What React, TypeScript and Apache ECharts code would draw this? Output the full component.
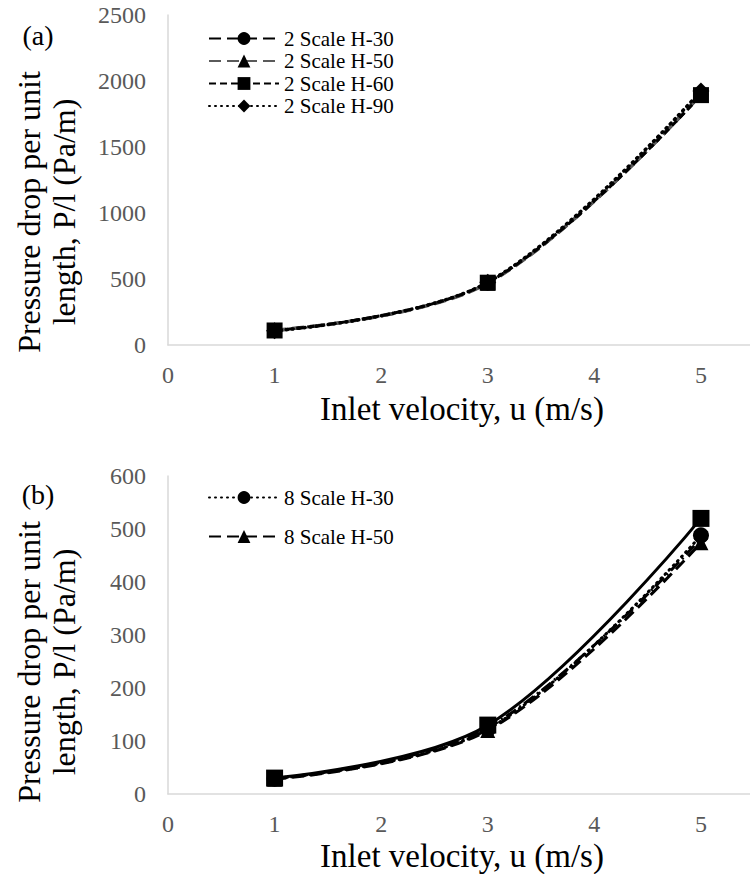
import React, { useEffect, useRef } from "react";
import * as echarts from "echarts";

// ---- data ----
const velocities = [1, 3, 5];
const xTicks = [0, 1, 2, 3, 4, 5];

const namesA = ["2 Scale H-30", "2 Scale H-50", "2 Scale H-60", "2 Scale H-90"];
const a30 = [110, 470, 1895];
const a50 = [112, 468, 1900];
const a60 = [110, 472, 1893];
const a90 = [108, 475, 1925];

const namesB = ["8 Scale H-30", "8 Scale H-50", "8 Scale H-60", "8 Scale H-90"];
const legendB = ["8 Scale H-30", "8 Scale H-50"];
const b30 = [29, 122, 488];
const b50 = [28, 120, 474];
const b60 = [30, 130, 520];
const b90 = [29, 125, 482];

const yTitle = "Pressure drop per unit\nlength, P/l (Pa/m)";
const xTitle = "Inlet velocity, u (m/s)";

const FONT = "'Liberation Serif', 'Times New Roman', serif";

function pairs(vals: number[]) {
  return vals.map((v, i) => [velocities[i], v]);
}

export default function App() {
  const ref = useRef<HTMLDivElement>(null);
  useEffect(() => {
    if (!ref.current) return;
    const chart = echarts.init(ref.current, undefined, { renderer: "svg" });

    const axisLine = { show: true, lineStyle: { color: "#d9d9d9", width: 1.5 } };
    const xAxisBase = (gridIndex: number) => ({
      type: "value" as const,
      gridIndex,
      min: 0,
      max: 5.46,
      interval: 1,
      axisLine,
      axisTick: { show: false },
      splitLine: { show: false },
      axisLabel: {
        fontSize: 24,
        fontFamily: FONT,
        color: "#595959",
        margin: 18,
        showMaxLabel: false,
        formatter: (v: number) => (xTicks.includes(v) ? String(v) : ""),
      },
    });
    const yAxisBase = (gridIndex: number, max: number, interval: number) => ({
      type: "value" as const,
      gridIndex,
      min: 0,
      max,
      interval,
      axisLine,
      axisTick: { show: false },
      splitLine: { show: false },
      axisLabel: {
        fontSize: 24,
        fontFamily: FONT,
        color: "#595959",
        margin: 22,
        formatter: (v: number) => String(v),
      },
    });

    const styles = {
      h30: { type: [12, 6], width: 3, color: "#000" },
      h50: { type: [12, 6], width: 3.5, color: "#5a5a5a" },
      h60: { type: [7, 4], width: 3, color: "#000" },
      h90: { type: [1, 5], width: 3.5, color: "#000", cap: "round" as const },
    };

    const mk = (
      name: string,
      vals: number[],
      idx: number,
      symbol: string,
      lineStyle: any,
      size: number
    ) => ({
      name,
      type: "line" as const,
      xAxisIndex: idx,
      yAxisIndex: idx,
      data: pairs(vals),
      smooth: 0.35,
      symbol,
      symbolSize: size,
      itemStyle: { color: "#000" },
      lineStyle,
    });

    const legendText = { fontSize: 21, fontFamily: FONT, color: "#000", lineHeight: 20 };

    chart.setOption({
      animation: false,
      grid: [
        { left: 168, top: 15, right: 0, height: 330 },
        { left: 168, top: 476, right: 0, height: 318 },
      ],
      xAxis: [xAxisBase(0), xAxisBase(1)],
      yAxis: [yAxisBase(0, 2500, 500), yAxisBase(1, 600, 100)],
      legend: [
        {
          data: namesA,
          orient: "vertical",
          left: 203,
          top: 23,
          itemWidth: 70,
          itemHeight: 16,
          itemGap: 1.5,
          textStyle: legendText,
        },
        {
          data: legendB,
          orient: "vertical",
          left: 203,
          top: 482,
          itemWidth: 70,
          itemHeight: 16,
          itemGap: 18,
          textStyle: legendText,
        },
      ],
      series: [
        mk(namesA[0], a30, 0, "circle", styles.h30, 15),
        mk(namesA[1], a50, 0, "triangle", styles.h50, 15),
        mk(namesA[2], a60, 0, "rect", styles.h60, 16),
        mk(namesA[3], a90, 0, "diamond", styles.h90, 17),
        mk(namesB[0], b30, 1, "circle", { type: [1, 5], width: 3, color: "#000", cap: "round" }, 16),
        mk(namesB[1], b50, 1, "triangle", { type: [12, 6], width: 3, color: "#000" }, 15),
        mk(namesB[3], b90, 1, "diamond", { type: [12, 4, 2, 4], width: 3, color: "#000" }, 15),
        mk(namesB[2], b60, 1, "rect", { type: "solid", width: 3, color: "#000" }, 17),
      ],
      graphic: [
        { type: "text", x: 38, y: 35, style: { text: "(a)", fontSize: 28, fontFamily: FONT, fill: "#000", align: "center", verticalAlign: "middle" } },
        { type: "text", x: 38, y: 494, style: { text: "(b)", fontSize: 28, fontFamily: FONT, fill: "#000", align: "center", verticalAlign: "middle" } },
        { type: "text", x: 46, y: 212, rotation: Math.PI / 2, style: { text: yTitle, fontSize: 32, lineHeight: 35, fontFamily: FONT, fill: "#000", align: "center", verticalAlign: "middle" } },
        { type: "text", x: 46, y: 662, rotation: Math.PI / 2, style: { text: yTitle, fontSize: 32, lineHeight: 35, fontFamily: FONT, fill: "#000", align: "center", verticalAlign: "middle" } },
        { type: "text", x: 462, y: 409, style: { text: xTitle, fontSize: 33, fontFamily: FONT, fill: "#000", align: "center", verticalAlign: "middle" } },
        { type: "text", x: 462, y: 856, style: { text: xTitle, fontSize: 33, fontFamily: FONT, fill: "#000", align: "center", verticalAlign: "middle" } },
      ],
    });
    return () => chart.dispose();
  }, []);
  return (
    <div
      ref={ref}
      style={{ position: "absolute", left: 0, top: 0, width: 750, height: 874, background: "#fff" }}
    />
  );
}
